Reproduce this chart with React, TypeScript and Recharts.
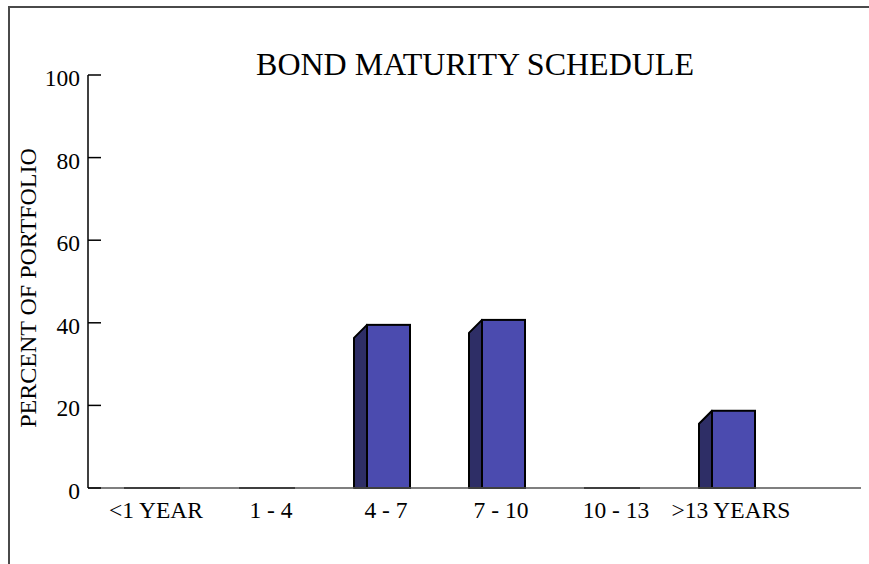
import { Bar, BarChart, XAxis, YAxis } from "recharts";

const categories = ["<1 YEAR", "1 - 4", "4 - 7", "7 - 10", "10 - 13", ">13 YEARS"];
const percents = [0, 0, 39.5, 40.7, 0, 18.7];
const yTicks = [0, 20, 40, 60, 80, 100];

const data = categories.map((c, i) => ({ name: c, value: percents[i] }));

const FONT = "'Liberation Serif', 'Times New Roman', serif";
const FRONT = "#4b4baf";
const SIDE = "#2e2e66";

// bar drawn as a front face plus a darker slanted side face on the left
function BoxBar(props: any) {
  const { x, y, width, height } = props;
  const c = x + width / 2 - 4;
  const left = c - 28;
  const mid = c - 15;
  const right = c + 28;
  const bottom = y + height;
  if (!height || height < 1) {
    return <line x1={left} x2={right} y1={bottom} y2={bottom} stroke="#000" strokeWidth={2} />;
  }
  return (
    <g>
      <polygon
        points={`${left},${bottom} ${left},${y + 13} ${mid},${y} ${mid},${bottom}`}
        fill={SIDE} stroke="#000" strokeWidth={2} strokeLinejoin="round"
      />
      <rect x={mid} y={y} width={right - mid} height={height} fill={FRONT} stroke="#000" strokeWidth={2} />
    </g>
  );
}

function YTick(props: any) {
  const { x, y, payload } = props;
  return (
    <g>
      <line x1={x} x2={x + 13} y1={y} y2={y} stroke="#000" strokeWidth={1.5} />
      <text x={x - 8} y={y} dy={11} textAnchor="end" fontFamily={FONT} fontSize={23.5} fill="#000">
        {payload.value}
      </text>
    </g>
  );
}

function XTick(props: any) {
  const { x, y, payload } = props;
  return (
    <text x={x} y={y} dy={30} textAnchor="middle" fontFamily={FONT} fontSize={23.5} fill="#000">
      {payload.value}
    </text>
  );
}

export default function App() {
  return (
    <div style={{ position: "absolute", left: 0, top: 0, width: 869, height: 564, background: "#fff" }}>
      <svg width={869} height={564} style={{ position: "absolute", left: 0, top: 0 }}>
        <line x1={8} x2={869} y1={7} y2={7} stroke="#4a4a4a" strokeWidth={2} />
        <line x1={9} x2={9} y1={6} y2={564} stroke="#4a4a4a" strokeWidth={2} />
        <text x={475} y={75} textAnchor="middle" fontFamily={FONT} fontSize={32} fill="#000">
          BOND MATURITY SCHEDULE
        </text>
      </svg>
      <div style={{ position: "absolute", left: 0, top: 0 }}>
        <BarChart width={869} height={564} data={data} margin={{ top: 75, right: 8, bottom: 0, left: 0 }} barCategoryGap={0}>
          <XAxis
            dataKey="name"
            padding={{ left: 10.5, right: 72.5 }}
            tickLine={false}
            tickSize={0}
            tickMargin={0}
            axisLine={{ stroke: "#555", strokeWidth: 1.5 }}
            tick={<XTick />}
            interval={0}
            height={76}
          />
          <YAxis
            domain={[0, 100]}
            ticks={yTicks}
            width={88}
            tickSize={0}
            tickMargin={0}
            tickLine={false}
            axisLine={{ stroke: "#000", strokeWidth: 1.5 }}
            tick={<YTick />}
            label={{
              content: () => (
                <text x={36} y={288} transform="rotate(-90 36 288)" textAnchor="middle"
                  fontFamily={FONT} fontSize={24} fill="#000">
                  PERCENT OF PORTFOLIO
                </text>
              ),
            }}
          />
          <Bar dataKey="value" barSize={43} shape={<BoxBar />} isAnimationActive={false} />
        </BarChart>
      </div>
    </div>
  );
}
